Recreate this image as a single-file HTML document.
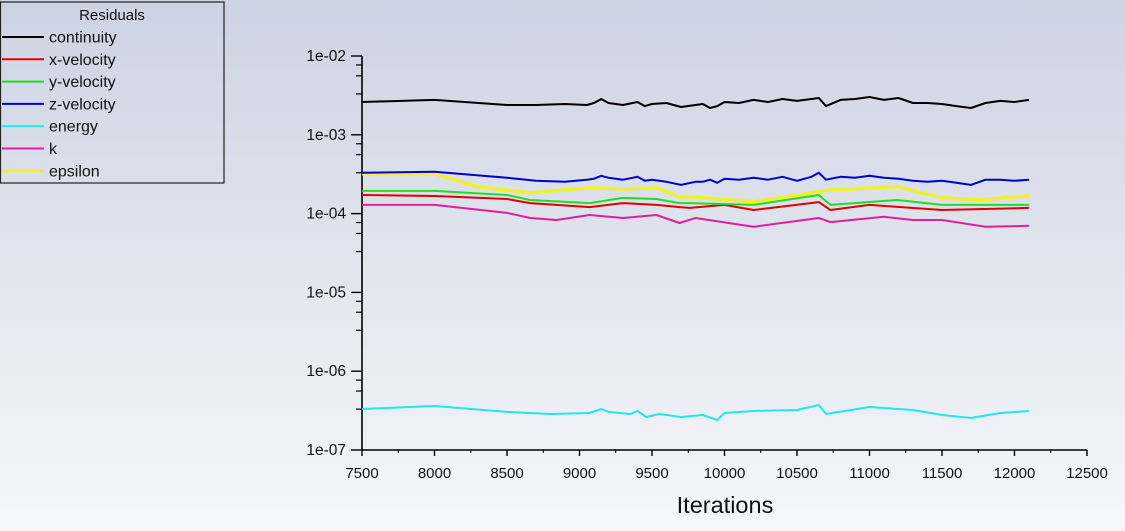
<!DOCTYPE html>
<html><head><meta charset="utf-8"><style>
html,body{margin:0;padding:0}
body{width:1125px;height:531px;overflow:hidden;background:linear-gradient(#ccd3e2,#f6f7fb);font-family:"Liberation Sans",sans-serif}
svg{position:absolute;left:0;top:0}
</style></head><body>
<svg id="chart" width="1125" height="531"></svg>
<script>
const seriesNames=["continuity","x-velocity","y-velocity","z-velocity","energy","k","epsilon"];
const seriesColors=["#000000","#e00000","#22dd22","#0000cc","#22e8e8","#e0209a","#f0f030"];
const itContinuity=[7500,8000,8500,8700,8900,9050,9100,9150,9200,9300,9400,9450,9500,9600,9700,9800,9850,9900,9950,10000,10100,10200,10300,10400,10500,10600,10650,10700,10800,10900,11000,11100,11200,11300,11400,11500,11600,11700,11800,11900,12000,12100];
const continuity=[2.61e-3,2.77e-3,2.39e-3,2.39e-3,2.46e-3,2.39e-3,2.53e-3,2.85e-3,2.53e-3,2.39e-3,2.61e-3,2.31e-3,2.46e-3,2.53e-3,2.25e-3,2.39e-3,2.46e-3,2.19e-3,2.31e-3,2.61e-3,2.53e-3,2.77e-3,2.61e-3,2.85e-3,2.69e-3,2.85e-3,2.93e-3,2.31e-3,2.77e-3,2.85e-3,3.02e-3,2.77e-3,2.93e-3,2.53e-3,2.53e-3,2.46e-3,2.31e-3,2.19e-3,2.53e-3,2.69e-3,2.61e-3,2.77e-3];
const zVelocity=[3.30e-4,3.39e-4,2.85e-4,2.61e-4,2.53e-4,2.69e-4,2.77e-4,3.02e-4,2.85e-4,2.69e-4,2.93e-4,2.61e-4,2.69e-4,2.53e-4,2.31e-4,2.53e-4,2.53e-4,2.69e-4,2.46e-4,2.77e-4,2.69e-4,2.85e-4,2.69e-4,2.93e-4,2.61e-4,2.93e-4,3.30e-4,2.69e-4,2.93e-4,2.85e-4,3.02e-4,2.85e-4,2.77e-4,2.61e-4,2.53e-4,2.61e-4,2.46e-4,2.31e-4,2.69e-4,2.69e-4,2.61e-4,2.69e-4];
const itEpsilon=[7500,8000,8300,8660,9070,9300,9530,9690,9760,10200,10730,11190,11490,11760,12100];
const epsilon=[3.2e-4,3.2e-4,2.19e-4,1.84e-4,2.13e-4,2.06e-4,2.13e-4,1.63e-4,1.63e-4,1.41e-4,2.0e-4,2.19e-4,1.59e-4,1.50e-4,1.68e-4];
const itYVel=[7500,8000,8500,8660,9070,9300,9530,9690,9760,10200,10650,10730,11190,11500,12100];
const yVelocity=[1.94e-4,1.94e-4,1.72e-4,1.49e-4,1.36e-4,1.58e-4,1.53e-4,1.36e-4,1.36e-4,1.29e-4,1.72e-4,1.29e-4,1.49e-4,1.29e-4,1.29e-4];
const itXVel=[7500,8000,8500,8660,9070,9300,9530,9690,9760,10000,10200,10650,10730,11000,11500,12100];
const xVelocity=[1.72e-4,1.67e-4,1.53e-4,1.36e-4,1.21e-4,1.36e-4,1.29e-4,1.21e-4,1.18e-4,1.29e-4,1.11e-4,1.40e-4,1.11e-4,1.29e-4,1.11e-4,1.18e-4];
const itK=[7500,8000,8500,8660,8840,9070,9300,9530,9690,9800,10200,10650,10730,11100,11300,11500,11800,12100];
const kRes=[1.29e-4,1.29e-4,1.02e-4,0.88e-4,0.83e-4,0.96e-4,0.88e-4,0.96e-4,0.76e-4,0.88e-4,0.68e-4,0.88e-4,0.78e-4,0.91e-4,0.83e-4,0.83e-4,0.68e-4,0.70e-4];
const itEnergy=[7500,8000,8500,8800,9070,9150,9200,9350,9400,9460,9550,9700,9850,9950,10000,10200,10500,10650,10700,11000,11300,11500,11700,11900,12100];
const energy=[3.31e-7,3.62e-7,3.04e-7,2.86e-7,2.95e-7,3.31e-7,3.04e-7,2.86e-7,3.13e-7,2.62e-7,2.86e-7,2.62e-7,2.78e-7,2.40e-7,2.95e-7,3.13e-7,3.22e-7,3.72e-7,2.86e-7,3.51e-7,3.22e-7,2.78e-7,2.55e-7,2.95e-7,3.13e-7];
const xTicks=[7500,8000,8500,9000,9500,10000,10500,11000,11500,12000,12500];
const yTickLabels=["1e-02","1e-03","1e-04","1e-05","1e-06","1e-07"];
const yTickExp=[-2,-3,-4,-5,-6,-7];
const yMinorMantissa=[3.3,5.6,7.7];

const NS="http://www.w3.org/2000/svg";
const svg=document.getElementById("chart");
const X0=362,X1=1087,Y0=56,Y1=450;
const xs=v=>X0+(v-7500)/(12500-7500)*(X1-X0);
const ys=v=>Y0+(-2-Math.log10(v))/5*(Y1-Y0);
function mk(tag,attrs,parent){const e=document.createElementNS(NS,tag);for(const k in attrs)e.setAttribute(k,attrs[k]);(parent||svg).appendChild(e);return e;}

const axes=mk("g",{});


let a=mk("line",{x1:X0,y1:Y0,x2:X0,y2:Y1,stroke:"#000","stroke-width":1.6},axes);


a=mk("line",{x1:X0,y1:Y1,x2:X1,y2:Y1,stroke:"#000","stroke-width":1.6},axes);


yTickExp.forEach((e,i)=>{
  const y=ys(Math.pow(10,e));
  mk("line",{x1:X0-11,y1:y,x2:X0,y2:y,stroke:"#000","stroke-width":1.4},axes);
  const t=mk("text",{x:346,y:y+5,"text-anchor":"end","font-size":15.5,fill:"#111"},axes);
  t.textContent=yTickLabels[i];
  
  
  if(e>-7){yMinorMantissa.forEach(m=>{const yy=ys(m*Math.pow(10,e-1));mk("line",{x1:X0-6,y1:yy,x2:X0,y2:yy,stroke:"#000","stroke-width":1.2},axes);});}
});
xTicks.forEach((v,i)=>{
  const x=xs(v);
  mk("line",{x1:x,y1:Y1,x2:x,y2:Y1+6,stroke:"#000","stroke-width":1.4},axes);
  if(i<xTicks.length-1){const xm=xs(v+250);mk("line",{x1:xm,y1:Y1,x2:xm,y2:Y1+3,stroke:"#000","stroke-width":1},axes);}
  const t=mk("text",{x:x,y:478,"text-anchor":"middle","font-size":15,fill:"#111"},axes);
  t.textContent=v;
  
  
});
const xt=mk("text",{x:725,y:513,"text-anchor":"middle","font-size":23.5,fill:"#111"});
xt.textContent="Iterations";



const seriesData=[[itContinuity,continuity],[itXVel,xVelocity],[itYVel,yVelocity],[itContinuity,zVelocity],[itEnergy,energy],[itK,kRes],[itEpsilon,epsilon]];
const drawOrder=[6,4,5,1,2,3,0];
drawOrder.forEach(i=>{
  const [its,vals]=seriesData[i];
  const d=its.map((it,j)=>(j?"L":"M")+xs(it).toFixed(1)+","+ys(vals[j]).toFixed(1)).join(" ");
  const p=mk("path",{d:d,fill:"none",stroke:seriesColors[i],"stroke-width":i==6?3.5:2,"stroke-linejoin":"round"});
  
  
});

const lg=mk("g",{});


mk("rect",{x:0.5,y:2,width:223.5,height:181,fill:"none",stroke:"#222","stroke-width":1.2},lg);
const lt=mk("text",{x:112,y:20,"text-anchor":"middle","font-size":15,fill:"#111"},lg);
lt.textContent="Residuals";


seriesNames.forEach((n,i)=>{
  const y=37+i*22.3;
  const g=mk("g",{},lg);
  
  
  mk("line",{x1:2,y1:y,x2:44,y2:y,stroke:seriesColors[i],"stroke-width":i==6?3:2},g);
  const t=mk("text",{x:49,y:y+5.5,"font-size":16,fill:"#111"},g);
  t.textContent=n;
});
</script>
</body></html>
